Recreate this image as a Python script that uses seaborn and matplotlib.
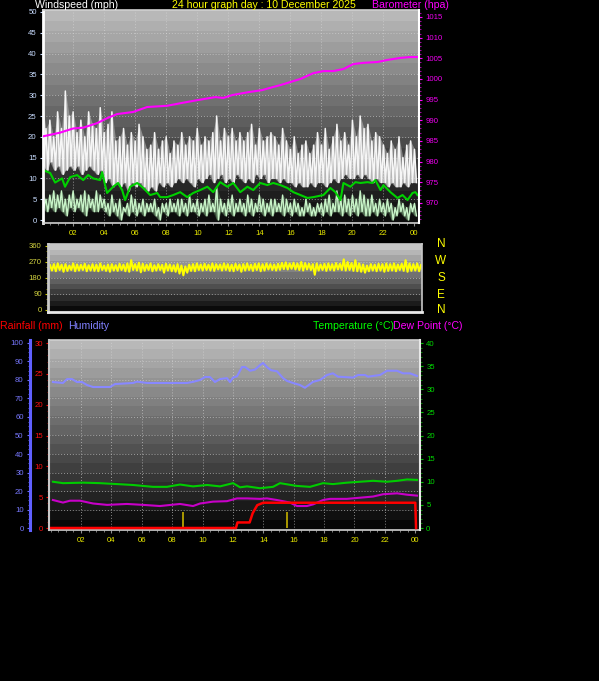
import numpy as np
import matplotlib
matplotlib.use("Agg")
import matplotlib.pyplot as plt
from matplotlib.ticker import MultipleLocator, FixedLocator
import seaborn as sns

plt.rcParams['font.family'] = ['Liberation Sans', 'DejaVu Sans']

W, H = 599, 681

# ---------------- data ----------------
# quarter-hour sample times for the noisy series (hours since midnight)
t_q = np.arange(97) * 0.25

gust_hi = [28, 22, 24, 20, 26, 22, 31, 25, 26, 21, 24, 20, 26, 23, 22, 27,
           21, 23, 26, 19, 20, 22, 18, 21, 19, 23, 20, 17, 18, 21, 17, 19,
           20, 16, 19, 18, 21, 18, 20, 19, 22, 18, 20, 19, 21, 25, 19, 22,
           20, 22, 19, 21, 19, 21, 23, 18, 22, 19, 20, 21, 20, 18, 22, 19,
           17, 20, 16, 18, 19, 16, 18, 21, 18, 22, 17, 20, 23, 19, 21, 18,
           24, 20, 25, 22, 23, 19, 21, 20, 18, 16, 19, 17, 20, 15, 18, 19, 17]
gust_lo = [13, 12, 14, 12, 13, 11, 12, 13, 12, 13, 11, 12, 13, 12, 11, 12,
           9, 10, 8, 9, 8, 9, 7, 9, 8, 9, 8, 7, 8, 7, 9, 8,
           9, 8, 9, 10, 9, 10, 9, 8, 10, 9, 10, 11, 9, 10, 11, 9,
           10, 9, 11, 10, 9, 10, 9, 11, 10, 11, 9, 10, 10, 9, 10, 9,
           9, 8, 9, 8, 8, 9, 8, 9, 9, 8, 9, 10, 9, 10, 11, 10,
           10, 11, 10, 11, 10, 9, 10, 9, 9, 8, 9, 8, 8, 9, 8, 9, 9]

wind_hi = [7, 5, 6, 7, 6, 7, 5, 6, 7, 5, 6, 7, 6, 5, 7, 6,
           5, 4, 6, 4, 5, 3, 4, 6, 5, 4, 5, 4, 4, 5, 3, 4,
           4, 5, 4, 5, 5, 4, 6, 4, 5, 4, 5, 6, 4, 8, 5, 4,
           5, 6, 4, 5, 4, 6, 5, 4, 6, 5, 4, 5, 5, 4, 6, 5,
           4, 5, 4, 3, 5, 4, 3, 4, 4, 5, 6, 4, 7, 5, 6, 5,
           6, 5, 7, 6, 5, 6, 4, 5, 4, 5, 4, 3, 5, 4, 3, 4, 4]
wind_lo = [3, 2, 3, 2, 3, 2, 1, 3, 2, 3, 2, 1, 3, 2, 2, 3,
           2, 1, 2, 1, 0, 2, 1, 2, 1, 2, 1, 2, 2, 1, 0, 2,
           1, 2, 2, 1, 2, 1, 2, 2, 1, 2, 1, 2, 2, 0, 2, 1,
           2, 1, 2, 2, 1, 2, 1, 2, 2, 1, 2, 1, 2, 2, 1, 2,
           1, 2, 1, 1, 2, 1, 1, 2, 1, 2, 1, 2, 2, 1, 2, 1,
           2, 1, 2, 1, 1, 2, 1, 2, 1, 2, 0, 1, 2, 1, 0, 2, 1]

avg_h = [0.06, 0.52, 0.84, 1.29, 1.48, 1.81, 2.26, 2.65, 2.97, 3.29, 3.74, 3.87,
         4.06, 4.19, 4.58, 4.90, 5.16, 5.35, 5.68, 6.13, 6.52, 6.97, 7.42, 7.61,
         8.06, 8.45, 8.90, 9.35, 9.74, 10.19, 10.65, 11.03, 11.48, 11.94, 12.32,
         12.77, 13.23, 13.61, 14.06, 14.52, 14.90, 15.35, 15.81, 16.19, 16.65,
         17.10, 17.48, 18.13, 18.58, 18.90, 19.23, 19.42, 19.87, 20.19, 20.52,
         20.97, 21.29, 21.48, 21.81, 22.00, 22.45, 22.90, 23.23, 23.55, 23.87,
         24.06, 24.19]
avg_mph = [12.0, 11.3, 9.0, 10.0, 8.0, 10.3, 10.8, 9.6, 10.8, 10.0, 9.6, 11.5,
           8.4, 6.5, 8.0, 8.9, 7.2, 4.8, 8.0, 8.9, 7.7, 6.0, 6.5, 5.5,
           5.5, 6.0, 6.7, 5.5, 6.5, 7.2, 8.0, 6.7, 9.1, 8.0, 8.9,
           6.7, 8.0, 7.2, 8.9, 8.4, 8.9, 8.4, 7.7, 6.7, 6.0,
           5.3, 5.5, 6.0, 7.7, 6.7, 4.8, 8.9, 8.0, 9.1, 8.9,
           9.1, 8.9, 9.6, 7.2, 8.4, 6.7, 5.3, 6.0, 4.8, 6.5,
           6.7, 6.0]

baro_h = [0.06, 1.16, 2.0, 2.65, 3.55, 4.19, 4.84, 5.87, 6.77, 8.06, 9.03, 10.06,
          11.16, 11.68, 12.26, 13.29, 14.19, 14.84, 15.35, 16.65, 17.48, 18.13,
          18.77, 19.42, 20.06, 20.71, 21.61, 22.26, 23.10, 23.74, 24.19]
baro_hpa = [986.1, 987.0, 988.0, 988.2, 989.3, 990.5, 991.5, 992.0, 993.2, 993.5,
            994.2, 994.9, 995.6, 995.4, 996.1, 996.8, 997.3, 998.0, 998.5, 1000.0,
            1001.4, 1001.9, 1001.9, 1002.4, 1003.6, 1003.9, 1004.1, 1004.6, 1005.1,
            1005.3, 1005.3]

dir_hi = [252, 258, 262, 255, 258, 250, 262, 256, 254, 260, 252, 258, 255, 262, 250, 256,
          258, 252, 260, 255, 262, 280, 258, 266, 260, 255, 262, 252, 258, 254, 260, 256,
          252, 258, 250, 245, 255, 258, 262, 256, 260, 255, 262, 258, 256, 262, 258, 255,
          260, 256, 258, 262, 255, 260, 262, 258, 262, 258, 256, 260, 265, 268, 262, 266,
          262, 270, 264, 260, 258, 262, 256, 260, 262, 258, 264, 260, 285, 270, 264, 280,
          262, 256, 250, 258, 255, 260, 258, 262, 258, 262, 256, 260, 280, 262, 258, 262, 255]
dir_lo = [222, 218, 225, 215, 220, 225, 218, 222, 225, 218, 222, 220, 218, 225, 220, 215,
          222, 220, 225, 218, 215, 225, 222, 212, 220, 225, 218, 222, 225, 210, 222, 218,
          215, 205, 195, 210, 220, 218, 225, 222, 225, 222, 220, 228, 222, 225, 220, 218,
          225, 215, 222, 225, 220, 225, 218, 222, 228, 225, 222, 226, 230, 228, 232, 228,
          225, 222, 228, 225, 198, 222, 225, 220, 225, 222, 228, 225, 222, 225, 220, 218,
          215, 210, 218, 222, 218, 222, 215, 220, 222, 218, 225, 220, 215, 220, 222, 218, 225]

hum_h = [0.16, 0.82, 1.09, 1.41, 1.74, 2.07, 2.40, 2.80, 3.91, 4.24, 5.43, 5.69, 6.35,
         8.98, 9.38, 9.84, 10.16, 10.49, 10.82, 11.15, 11.61, 11.81, 12.01, 12.27,
         12.60, 12.80, 13.13, 13.45, 13.78, 13.98, 14.24, 14.51, 14.90, 15.30, 15.56,
         15.95, 16.41, 16.74, 17.27, 17.73, 18.19, 18.58, 18.91, 19.90, 20.23, 20.69,
         20.89, 21.68, 22.14, 22.80, 23.19, 23.65, 24.11]
hum_pct = [78.9, 78.4, 80.5, 80.5, 78.9, 78.9, 77.3, 76.2, 76.2, 77.8, 78.4, 79.1, 78.4,
           78.4, 79.0, 80.0, 81.6, 81.6, 78.9, 80.5, 81.0, 78.9, 81.3, 82.0,
           87.0, 87.0, 85.0, 85.6, 88.0, 89.2, 87.0, 85.3, 84.7, 81.0, 79.5,
           78.4, 77.3, 75.8, 79.0, 80.0, 82.7, 83.6, 81.8, 81.3, 82.7, 82.7,
           81.8, 82.7, 85.0, 85.0, 83.6, 83.6, 82.2]

temp_h = [0.16, 0.82, 2.14, 3.26, 4.37, 5.43, 6.74, 7.66, 8.52, 9.38, 10.30, 11.15,
          12.01, 12.47, 12.93, 13.78, 14.64, 15.10, 16.20, 17.07, 17.93, 18.58,
          19.50, 20.36, 21.22, 22.14, 22.80, 23.46, 24.11]
temp_c = [10.0, 9.7, 9.8, 9.7, 9.5, 9.3, 8.9, 8.9, 9.4, 9.0, 9.3, 9.0,
          9.7, 8.8, 9.0, 8.6, 8.9, 9.7, 9.1, 8.9, 9.7, 9.5,
          9.8, 10.0, 10.2, 10.0, 10.2, 10.5, 10.4]

dew_h = [0.16, 0.82, 1.28, 1.94, 2.80, 3.72, 5.03, 6.09, 7.20, 8.52, 9.38, 9.84,
         10.69, 11.61, 12.27, 12.93, 13.78, 14.24, 14.90, 15.75, 16.22, 16.87,
         17.27, 17.93, 18.39, 19.50, 20.36, 21.22, 21.88, 22.80, 23.46, 24.11]
dew_c = [6.05, 5.5, 5.9, 5.9, 5.3, 5.0, 5.2, 5.0, 4.75, 5.2, 4.75, 5.3,
         5.7, 5.8, 6.4, 6.4, 6.3, 6.4, 6.05, 5.5, 4.75, 4.75,
         5.1, 6.05, 6.3, 6.3, 6.55, 6.8, 7.3, 7.5, 7.2, 7.0]

rain_h = [0.0, 12.2, 12.3, 13.1, 13.3, 13.6, 14.0, 24.0, 24.05]
rain_mm = [0.0, 0.0, 0.9, 0.9, 2.4, 3.7, 4.1, 4.1, 0.0]

rate_h = [8.70, 15.54]
rate_mm = [2.6, 2.6]

hour_ticks = list(range(2, 25, 2))
hour_labels = ['02', '04', '06', '08', '10', '12', '14', '16', '18', '20', '22', '00']


# ---------------- helpers ----------------
def box(x0, y0, x1, y1):
    return [x0 / W, 1 - y1 / H, (x1 - x0) / W, (y1 - y0) / H]


def shade(ax, top, bottom, steps=20):
    x0, x1 = ax.get_xlim()
    y0, y1 = ax.get_ylim()
    levels = np.linspace(top, bottom, steps).reshape(-1, 1)
    ax.imshow(levels, cmap='gray', vmin=0, vmax=1, aspect='auto', origin='upper',
              extent=(x0, x1, y0, y1), zorder=0, interpolation='nearest')
    ax.set_xlim(x0, x1)
    ax.set_ylim(y0, y1)


def zigzag(hi, lo):
    t = np.column_stack([t_q, t_q + 0.125]).ravel()
    v = np.column_stack([hi, lo]).ravel()
    return t, v


def line(ax, x, y, color, lw):
    sns.lineplot(x=x, y=y, ax=ax, color=color, lw=lw, estimator=None, legend=False)
    ax.set_xlabel('')
    ax.set_ylabel('')


def band(ax, hi, lo, fill, edge, lw, alpha):
    t, v = zigzag(hi, lo)
    ax.fill_between(t, np.minimum(v, np.repeat(lo, 2)), v, color=fill, lw=0,
                    alpha=alpha, zorder=1.8)
    ax.fill_between(t_q, lo, hi, color=fill, lw=0, alpha=alpha * 0.6, zorder=1.8)
    line(ax, t, v, edge, lw)


GRID = dict(color='#d8d8d8', ls=(0, (1, 2)), lw=0.7, alpha=0.6)
fs = 5.6

fig = plt.figure(figsize=(W / 100, H / 100), dpi=100, facecolor='black')

# ---------------- wind speed + barometer ----------------
axw = fig.add_axes(box(43, 10, 419, 223))
axw.set_xlim(0.06, 24.29)
axw.set_ylim(-0.72, 50.48)
shade(axw, 0.72, 0.05)
for h in range(2, 24, 2):
    axw.axvline(h, **GRID)
for v in range(5, 50, 5):
    axw.axhline(v, **GRID)

band(axw, gust_hi, gust_lo, '#bdbdbd', '#f6f6f6', 1.1, 0.9)
band(axw, wind_hi, wind_lo, '#8fc08f', '#c8f4c8', 1.0, 0.45)
line(axw, avg_h, avg_mph, '#00d000', 1.5)

axw.xaxis.set_major_locator(FixedLocator(hour_ticks))
axw.set_xticklabels(hour_labels)
axw.xaxis.set_minor_locator(MultipleLocator(0.5))
axw.yaxis.set_major_locator(FixedLocator(range(0, 51, 5)))
axw.tick_params(axis='x', colors='#909090', labelcolor='#e8e800', labelsize=fs,
                length=2.5, pad=2.5)
axw.tick_params(axis='x', which='minor', colors='#909090', length=1.5)
axw.tick_params(axis='y', colors='#c8dcff', labelsize=fs, length=2.5, pad=2)
for s in axw.spines.values():
    s.set_color('#d0d0d0')
    s.set_linewidth(1.2)
axw.spines['left'].set_color('white')
axw.spines['left'].set_linewidth(2)

axb = axw.twinx()
axb.set_ylim(965.12, 1016.69)
line(axb, baro_h, baro_hpa, '#ff00ff', 1.5)
axb.yaxis.set_major_locator(FixedLocator(range(970, 1016, 5)))
axb.yaxis.set_minor_locator(MultipleLocator(1))
axb.tick_params(axis='y', colors='#ff00ff', labelcolor='#f000f0', labelsize=fs,
                length=2.5, pad=2)
axb.tick_params(axis='y', which='minor', colors='#c000c0', length=1.5)
for k, s in axb.spines.items():
    s.set_visible(k == 'right')
axb.spines['right'].set_color('white')
axb.spines['right'].set_linewidth(1.5)

# ---------------- wind direction ----------------
axd = fig.add_axes(box(48, 244, 422, 312))
axd.set_xlim(-0.13, 24.06)
axd.set_ylim(-11.25, 371.25)
shade(axd, 0.78, 0.04, 12)
for v in (90, 180, 270):
    axd.axhline(v, **GRID)
t, v = zigzag(dir_hi, dir_lo)
line(axd, t, v, '#ffff00', 1.5)
axd.set_xticks([])
axd.yaxis.set_major_locator(FixedLocator([0, 90, 180, 270, 360]))
axd.yaxis.set_minor_locator(MultipleLocator(30))
axd.tick_params(axis='y', colors='#c8c800', labelcolor='#d4d440', labelsize=fs,
                length=2.5, pad=2)
axd.tick_params(axis='y', which='minor', colors='#a0a000', length=1.5)
for s in axd.spines.values():
    s.set_color('#c8c8c8')
    s.set_linewidth(1.2)
axd.spines['bottom'].set_color('#e8e8e8')
axd.spines['bottom'].set_linewidth(2)
axd.spines['left'].set_linewidth(2)

for lab, yy in zip(['N', 'W', 'S', 'E', 'N'], [244, 261, 278, 295, 310]):
    fig.text(441 / W, 1 - yy / H, lab, color='#ffff00', fontsize=8.5,
             ha='center', va='center')

# ---------------- humidity / rain / temperature ----------------
axh = fig.add_axes(box(49, 340, 420, 530))
axh.set_xlim(-0.1, 24.31)
axh.set_ylim(-1.08, 101.62)
shade(axh, 0.72, 0.03)
for h in range(2, 24, 2):
    axh.axvline(h, **GRID)
for v in range(10, 100, 10):
    axh.axhline(v, **GRID)
line(axh, hum_h, hum_pct, '#8888ff', 1.5)

axh.xaxis.set_major_locator(FixedLocator(hour_ticks))
axh.set_xticklabels(hour_labels)
axh.xaxis.set_minor_locator(MultipleLocator(0.5))
axh.yaxis.set_major_locator(FixedLocator(range(0, 101, 10)))
axh.yaxis.set_minor_locator(MultipleLocator(2.5))
axh.tick_params(axis='x', colors='#909090', labelcolor='#e8e800', labelsize=fs,
                length=2.5, pad=2.5)
axh.tick_params(axis='x', which='minor', colors='#909090', length=1.5)
axh.tick_params(axis='y', colors='#6a6aff', labelcolor='#7878ff', labelsize=fs,
                length=2.5, pad=2)
axh.tick_params(axis='y', which='minor', colors='#6a6aff', length=1.3)
for s in axh.spines.values():
    s.set_color('#d0d0d0')
    s.set_linewidth(1.2)
axh.spines['right'].set_visible(False)
axh.spines['left'].set_position(('outward', 13.7))
axh.spines['left'].set_color('#6060ff')
axh.spines['left'].set_linewidth(2.2)

axt = axh.twinx()
axt.set_ylim(-0.432, 40.65)
line(axt, temp_h, temp_c, '#00cc00', 1.5)
line(axt, dew_h, dew_c, '#c800c8', 1.5)
axt.yaxis.set_major_locator(FixedLocator(range(0, 41, 5)))
axt.yaxis.set_minor_locator(MultipleLocator(1))
axt.tick_params(axis='y', colors='#00c000', labelcolor='#00d800', labelsize=fs,
                length=2.5, pad=2)
axt.tick_params(axis='y', which='minor', colors='#00a000', length=1.3)
for k, s in axt.spines.items():
    s.set_visible(k == 'right')
axt.spines['right'].set_color('#e8e8e8')
axt.spines['right'].set_linewidth(1.5)

axr = axh.twinx()
axr.set_ylim(-0.324, 30.49)
axr.vlines(rate_h, 0, rate_mm, color='#b8a400', lw=1.3)
line(axr, rain_h, rain_mm, '#ff0000', 1.8)
axr.yaxis.tick_left()
axr.yaxis.set_major_locator(FixedLocator(range(0, 31, 5)))
axr.yaxis.set_minor_locator(MultipleLocator(1))
axr.tick_params(axis='y', colors='#ff0000', labelcolor='#ff1010', labelsize=fs,
                length=2.5, pad=2)
axr.tick_params(axis='y', which='minor', colors='#c00000', length=1.3)
for k, s in axr.spines.items():
    s.set_visible(k == 'left')
axr.spines['left'].set_color('#c8c8c8')
axr.spines['left'].set_linewidth(1.5)

# ---------------- titles ----------------
tfs = 7.6


def title(x, y, s, c):
    fig.text(x / W, 1 - y / H, s, color=c, fontsize=tfs, ha='left', va='center')


title(35, 5.5, 'Windspeed (mph)', 'white')
title(172, 5.5, '24 hour graph day : 10 December 2025', '#ffff00')
title(372, 5.5, 'Barometer (hpa)', '#ff00ff')
title(0, 326, 'Rainfall (mm)', '#ff0000')
title(68, 326, 'Humidity', '#8080ff')
title(313, 326, 'Temperature (°C)', '#00ff00')
title(393, 326, 'Dew Point (°C)', '#ff00ff')

fig.savefig('out.png', dpi=100, facecolor='black')
